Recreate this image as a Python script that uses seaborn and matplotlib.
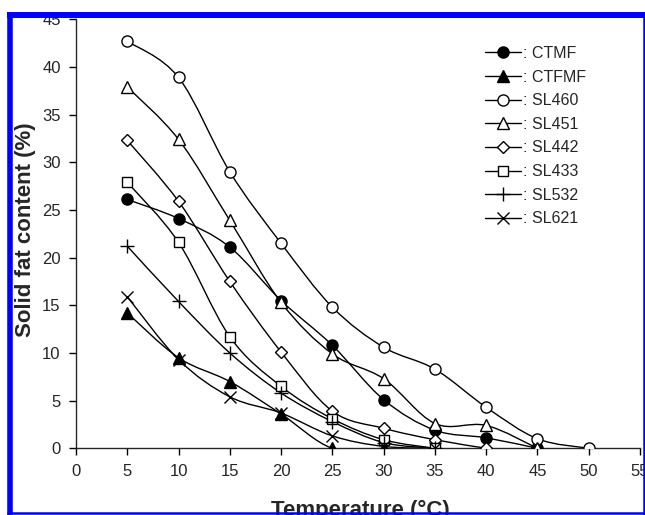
import numpy as np
import pandas as pd
import seaborn as sns
import matplotlib.pyplot as plt
from matplotlib.path import Path
from matplotlib.patches import PathPatch
from matplotlib.lines import Line2D

sns.set_style("ticks")
plt.rcParams['font.family'] = ['Liberation Sans', 'DejaVu Sans']

temps = [5, 10, 15, 20, 25, 30, 35, 40, 45, 50]
ctmf = [26.1, 24.1, 21.1, 15.5, 10.8, 5.1, 1.9, 1.1, 0.0]
ctfmf = [14.2, 9.5, 7.0, 3.6, 0.0, 0.0]
sl460 = [42.7, 38.9, 29.0, 21.5, 14.8, 10.6, 8.3, 4.3, 1.0, 0.0]
sl451 = [37.9, 32.4, 23.9, 15.3, 9.9, 7.3, 2.6, 2.4, 0.0]
sl442 = [32.3, 25.9, 17.5, 10.1, 3.9, 2.1, 0.9, 0.0]
sl433 = [27.9, 21.6, 11.7, 6.5, 3.1, 0.9, 0.0]
sl532 = [21.2, 15.4, 10.0, 5.8, 2.8, 0.6, 0.0]
sl621 = [15.9, 9.3, 5.4, 3.7, 1.3, 0.2, 0.0]

names = ["CTMF", "CTFMF", "SL460", "SL451", "SL442", "SL433", "SL532", "SL621"]
values = [ctmf, ctfmf, sl460, sl451, sl442, sl433, sl532, sl621]

rows = []
for n, v in zip(names, values):
    for t, y in zip(temps, v):
        rows.append({"sample": n, "temp": t, "sfc": y})
df = pd.DataFrame(rows)

styles = {
    "CTMF":  dict(marker='o', markerfacecolor='black', markersize=8),
    "CTFMF": dict(marker='^', markerfacecolor='black', markersize=8.5),
    "SL460": dict(marker='o', markerfacecolor='white', markersize=8),
    "SL451": dict(marker='^', markerfacecolor='white', markersize=8.5),
    "SL442": dict(marker='D', markerfacecolor='white', markersize=6.5),
    "SL433": dict(marker='s', markerfacecolor='white', markersize=7),
    "SL532": dict(marker='+', markerfacecolor='black', markersize=10),
    "SL621": dict(marker='x', markerfacecolor='black', markersize=8),
}


def smooth_path(x, y):
    # excel-like smoothed line as bezier segments
    p = np.column_stack([x, y]).astype(float)
    n = len(p)
    verts = [p[0]]
    codes = [Path.MOVETO]
    for i in range(n - 1):
        p0 = p[max(i - 1, 0)]
        p3 = p[min(i + 2, n - 1)]
        c1 = p[i] + (p[i + 1] - p0) / 6
        c2 = p[i + 1] - (p3 - p[i]) / 6
        verts += [c1, c2, p[i + 1]]
        codes += [Path.CURVE4] * 3
    return Path(verts, codes)


fig = plt.figure(figsize=(6.45, 5.15), dpi=100)
ax = fig.add_axes([76 / 645, (515 - 448.3) / 515, 564 / 645, 429 / 515])

for n in names:
    d = df[df["sample"] == n]
    ax.add_patch(PathPatch(smooth_path(d["temp"], d["sfc"]), facecolor='none',
                           edgecolor='black', lw=1.0, zorder=2))
    sns.lineplot(data=d, x="temp", y="sfc", linestyle='', color='black',
                 markeredgecolor='black', markeredgewidth=1.0, ax=ax, zorder=3,
                 **styles[n])

ax.set_xlim(0, 55)
ax.set_ylim(0, 45)
ax.set_xticks(range(0, 56, 5))
ax.set_yticks(range(0, 46, 5))
ax.tick_params(labelsize=12, length=5, width=1, color='black', pad=6)
ax.spines['top'].set_visible(False)
ax.spines['right'].set_visible(False)
ax.spines['left'].set_linewidth(1)
ax.spines['bottom'].set_linewidth(1)
ax.set_xlabel("")
ax.set_ylabel("")

handles = [Line2D([], [], color='black', lw=1.0, markeredgecolor='black',
                  markeredgewidth=1.0, **styles[n]) for n in names]
fig.legend(handles, [": " + n for n in names], loc='upper left',
           bbox_to_anchor=(485 / 645, 1 - 46 / 515), frameon=False,
           fontsize=11.5, handlelength=2.25, handletextpad=0.15,
           labelspacing=0.54, borderpad=0, borderaxespad=0)

fig.text(31.5 / 645, 1 - 230 / 515, "Solid fat content (%)", rotation=90,
         rotation_mode='anchor', ha='center', va='baseline',
         fontsize=16, fontweight='bold')
fig.text(360 / 645, -1 / 515, "Temperature (\u00b0C)", ha='center',
         va='baseline', fontsize=16, fontweight='bold')

# blue frame of the cropped figure: thick left/top, thin right/bottom
blue = '#0000ff'
for xs, ys, w in [((9.75, 9.75), (12, 515), 4.0),
                  ((7, 645), (15, 15), 4.3),
                  ((643.5, 643.5), (12, 515), 1.8),
                  ((7, 645), (512.5, 512.5), 1.8)]:
    fig.add_artist(Line2D([x / 645 for x in xs], [1 - y / 515 for y in ys],
                          color=blue, lw=w, solid_capstyle='butt', zorder=10))

fig.savefig("out.png", dpi=100)
